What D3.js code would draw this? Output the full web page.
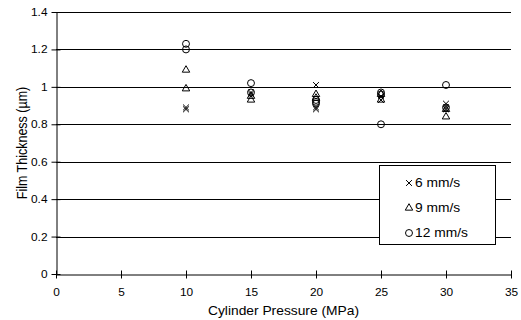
<!DOCTYPE html>
<html><head><meta charset="utf-8">
<script src="https://cdn.jsdelivr.net/npm/d3@7"></script>
<style>body{margin:0;background:#fff}svg{display:block}text{font-family:"Liberation Sans",Arial,sans-serif;fill:#000}</style>
</head><body><svg id="c" width="521" height="320"></svg>
<script>
const xTicks=[0,5,10,15,20,25,30,35];
const yTicks=[0,0.2,0.4,0.6,0.8,1,1.2,1.4];
const series=["6 mm/s","9 mm/s","12 mm/s"];
const pressure6=[10,10,15,15,20,20,20,25,25,30,30,30];
const thick6=[0.89,0.88,0.97,0.96,1.01,0.89,0.88,0.95,0.93,0.91,0.89,0.88];
const pressure9=[10,10,15,15,20,20,25,25,30,30];
const thick9=[1.09,0.99,0.95,0.93,0.96,0.94,0.96,0.93,0.88,0.84];
const pressure12=[10,10,15,15,20,20,20,25,25,25,30,30];
const thick12=[1.23,1.20,1.02,0.97,0.93,0.92,0.91,0.97,0.96,0.80,1.01,0.89];

const svg=d3.select("#c");
const L=56,R=511,T=12,B=274;
const SX=1.15, FS="12px", TS=1.08;
const x=d3.scaleLinear().domain([0,35]).range([L,R]);
const y=d3.scaleLinear().domain([0,1.4]).range([B,T]);

svg.append("g").selectAll("line").data(yTicks.filter(d=>d>0)).join("line")
 .attr("x1",L).attr("x2",R).attr("y1",d=>Math.round(y(d))+0.5).attr("y2",d=>Math.round(y(d))+0.5)
 .attr("stroke","#000").attr("stroke-width",1);

const xa=svg.append("g").attr("transform",`translate(0,${Math.round(B)+0.5})`)
 .call(d3.axisBottom(x).tickValues(xTicks).tickSize(4).tickSizeOuter(0).tickFormat(d3.format("d")));
const ya=svg.append("g").attr("transform",`translate(${L+0.5},0)`)
 .call(d3.axisLeft(y).tickValues(yTicks).tickSize(5).tickSizeOuter(0).tickFormat(d=>d3.format("")(d)));
[xa,ya].forEach(a=>{a.select(".domain").attr("stroke","#000");a.selectAll(".tick line").attr("stroke","#000");a.selectAll("text").style("font-size","11px").style("font-family","Liberation Sans, Arial, sans-serif");});
xa.selectAll(".tick line").attr("y1",-4);
ya.selectAll(".tick line").attr("x1",4);
xa.selectAll("text").attr("dy","0.71em").attr("y",14).attr("x",0).attr("transform",`scale(${TS},1)`);
ya.selectAll("text").attr("x",-9/TS).attr("transform",`scale(${TS},1)`);

svg.append("text").attr("transform",`translate(${(L+R)/2},315) scale(${SX},1)`).attr("text-anchor","middle").style("font-size",FS).text("Cylinder Pressure (MPa)");
svg.append("text").attr("transform",`translate(26.5,${(T+B)/2}) scale(1.1,1) rotate(-90)`).attr("text-anchor","middle").style("font-size","12.5px").text("Film Thickness (\u00b5m)");

const sym={
 cross:d3.symbol().type(d3.symbolX).size(24),
 tri:d3.symbol().type(d3.symbolTriangle).size(24),
 circ:d3.symbol().type(d3.symbolCircle).size(38)
};
function draw(px,py,s){
 svg.append("g").selectAll("path").data(px.map((p,i)=>[p,py[i]])).join("path")
  .attr("d",s).attr("transform",d=>`translate(${x(d[0])},${y(d[1])})`)
  .attr("fill","none").attr("stroke","#000").attr("stroke-width",1);
}
draw(pressure6,thick6,sym.cross());
draw(pressure9,thick9,sym.tri());
draw(pressure12,thick12,sym.circ());

const lg=svg.append("g");
lg.append("rect").attr("x",379.5).attr("y",165.5).attr("width",116).attr("height",79).attr("fill","#fff").attr("stroke","#000");
const ls=[sym.cross(),sym.tri(),sym.circ()];
series.forEach((s,i)=>{
 const cy=183+i*25;
 lg.append("path").attr("d",ls[i]).attr("transform",`translate(409,${cy})`).attr("fill","none").attr("stroke","#000");
 lg.append("text").attr("transform",`translate(415,${cy}) scale(${SX},1)`).attr("dy","0.35em").style("font-size",FS).text(s);
});
</script></body></html>
